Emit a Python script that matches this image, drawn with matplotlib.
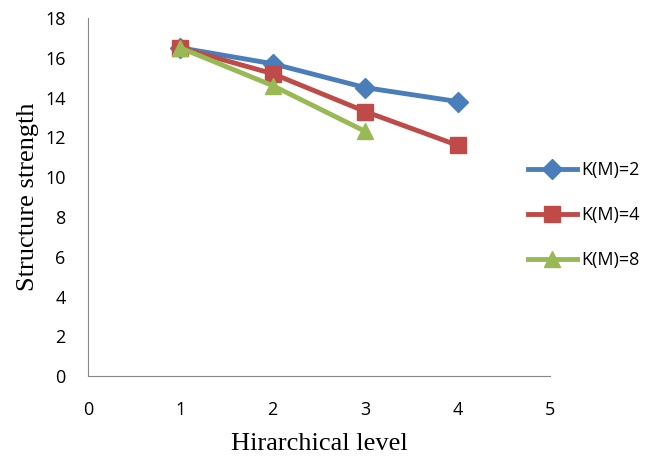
import matplotlib
matplotlib.use("Agg")
import matplotlib.pyplot as plt

levels = [1, 2, 3, 4]
k2 = [16.5, 15.7, 14.5, 13.8]
k4 = [16.5, 15.2, 13.3, 11.6]
k8 = [16.5, 14.6, 12.3]
labels = ["K(M)=2", "K(M)=4", "K(M)=8"]

fig = plt.figure(figsize=(6.55, 4.61), dpi=100)
ax = fig.add_axes([0.134, 0.184, 0.706, 0.777])

ax.plot(levels, k2, color="#4a7ebb", lw=3.5, marker="D", ms=10, label=labels[0])
ax.plot(levels, k4, color="#be4b48", lw=3.5, marker="s", ms=11, label=labels[1])
ax.plot(levels[:3], k8, color="#98b954", lw=3.5, marker="^", ms=12, label=labels[2])

ax.set_xlim(0, 5)
ax.set_ylim(0, 18)
ax.set_xticks(range(0, 6))
ax.set_yticks(range(0, 19, 2))
ax.tick_params(length=0, labelsize=13)
ax.tick_params(axis="x", pad=18)
ax.tick_params(axis="y", pad=16)
for lab in ax.get_xticklabels() + ax.get_yticklabels():
    lab.set_family("Open Sans")
for s in ["top", "right"]:
    ax.spines[s].set_visible(False)
for s in ["left", "bottom"]:
    ax.spines[s].set_color("#888888")

ax.set_xlabel("Hirarchical level", family="Liberation Serif", fontsize=19, labelpad=10)
ax.set_ylabel("Structure strength", family="Liberation Serif", fontsize=19, labelpad=4)

leg = fig.legend(loc="upper left", bbox_to_anchor=(528 / 655, 1 - 161 / 461), frameon=False,
                 prop={"family": "Open Sans", "size": 13}, labelspacing=1.5,
                 handlelength=2.7, handletextpad=0.25, borderpad=0, borderaxespad=0)

fig.savefig("out.png", dpi=100)
